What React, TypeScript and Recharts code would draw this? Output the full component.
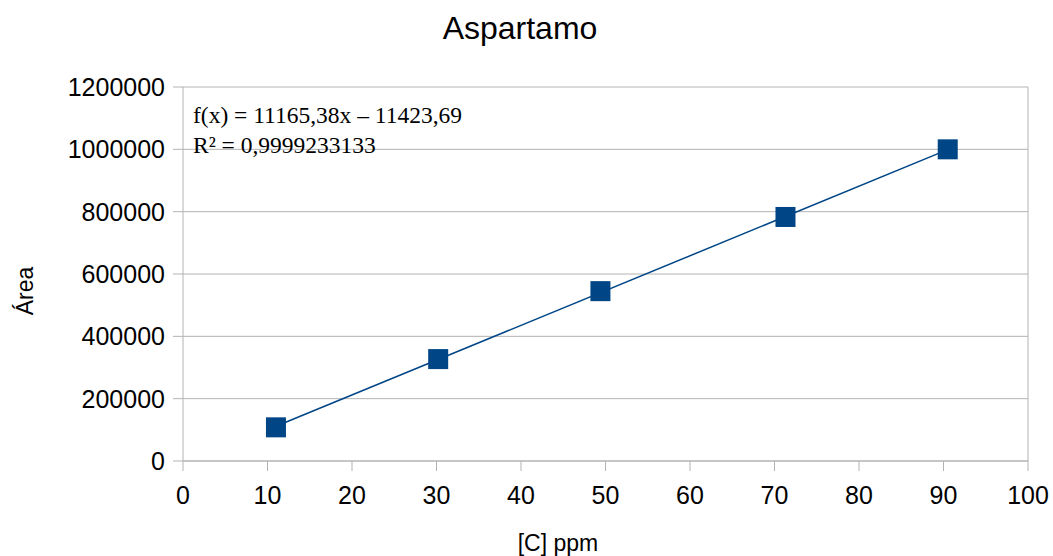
import React from 'react';
import {
  ScatterChart,
  Scatter,
  XAxis,
  YAxis,
  CartesianGrid,
  ReferenceLine,
  Customized,
} from 'recharts';

// valores
const concentracao = [11.0, 30.2, 49.4, 71.3, 90.5];
const area = [108000, 327000, 545000, 783000, 1000000];

const xTicks = [0, 10, 20, 30, 40, 50, 60, 70, 80, 90, 100];
const yTicks = [0, 200000, 400000, 600000, 800000, 1000000, 1200000];

// coeficientes da linha de tendência (mostrados no gráfico)
const inclinacao = 11165.38;
const intercepto = -11423.69;
const r2 = '0,9999233133';

const titulo = 'Aspartamo';
const tituloX = '[C] ppm';
const tituloY = 'Área';

const pontos = concentracao.map((x, i) => ({ x, y: area[i] }));

const xMin = Math.min(...concentracao);
const xMax = Math.max(...concentracao);
const tendencia = [xMin, xMax].map((x) => ({ x, y: inclinacao * x + intercepto }));

const COR = '#004586';
const CINZA = '#b3b3b3';
const SANS = '"Liberation Sans", Arial, sans-serif';
const SERIF = '"Liberation Serif", "Times New Roman", serif';

const fmtNum = (v: number) => v.toFixed(2).replace('.', ',');

const Quadrado = (props: any) => {
  const { cx, cy } = props;
  if (cx == null || cy == null) return <g />;
  return <rect x={cx - 10} y={cy - 10} width={20} height={20} fill={COR} />;
};

const Textos = () => (
  <g>
    <text x={520} y={39} textAnchor="middle" fontSize={32} fontFamily={SANS} fill="#000">
      {titulo}
    </text>
    <text x={558} y={551} textAnchor="middle" fontSize={23} fontFamily={SANS} fill="#000">
      {tituloX}
    </text>
    <text
      x={33}
      y={291}
      textAnchor="middle"
      fontSize={23}
      fontFamily={SANS}
      fill="#000"
      transform="rotate(-90, 33, 291)"
    >
      {tituloY}
    </text>
    <text x={193} y={123} fontSize={23.5} fontFamily={SERIF} fill="#000">
      {`f(x) = ${fmtNum(inclinacao)}x – ${fmtNum(Math.abs(intercepto))}`}
    </text>
    <text x={193} y={153} fontSize={23.5} fontFamily={SERIF} fill="#000">
      {`R² = ${r2}`}
    </text>
  </g>
);

export default function App() {
  document.body.style.margin = '0';
  return (
    <div style={{ width: 1053, height: 556, background: '#fff' }}>
      <ScatterChart width={1053} height={556} margin={{ top: 87, right: 25, bottom: 35, left: 73 }}>
        <CartesianGrid vertical={false} stroke={CINZA} />
        <XAxis
          type="number"
          dataKey="x"
          domain={[0, 100]}
          ticks={xTicks}
          interval={0}
          height={60}
          stroke={CINZA}
          tickSize={10}
          tickMargin={15}
          tick={{ fontSize: 25, fill: '#000', fontFamily: SANS }}
        />
        <YAxis
          type="number"
          dataKey="y"
          domain={[0, 1200000]}
          ticks={yTicks}
          interval={0}
          width={110}
          stroke={CINZA}
          tickSize={10}
          tickMargin={8}
          tick={{ fontSize: 25, fill: '#000', fontFamily: SANS }}
        />
        <ReferenceLine x={100} stroke={CINZA} />
        <Scatter
          data={tendencia}
          line={{ stroke: COR, strokeWidth: 1.5 }}
          shape={() => <g />}
          isAnimationActive={false}
        />
        <Scatter data={pontos} fill={COR} shape={Quadrado} isAnimationActive={false} />
        <Customized component={Textos} />
      </ScatterChart>
    </div>
  );
}
